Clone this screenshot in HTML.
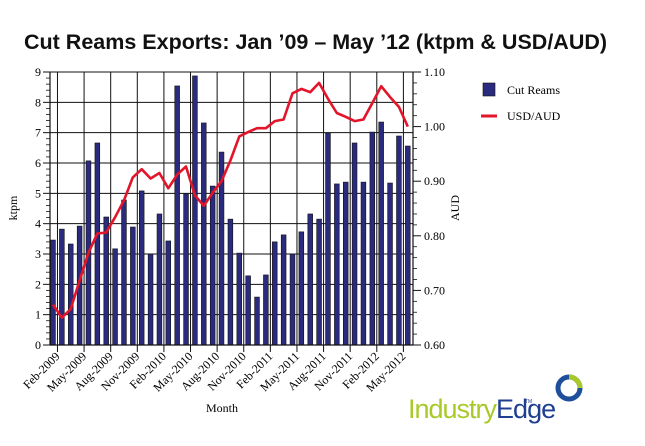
<!DOCTYPE html>
<html><head><meta charset="utf-8"><style>
html,body{margin:0;padding:0;background:#fff;width:645px;height:446px;overflow:hidden}
svg{display:block;font-family:"Liberation Serif",serif}
</style></head><body>
<svg id="chart" width="645" height="446" viewBox="0 0 645 446">
<text x="24" y="49" font-family="Liberation Sans, sans-serif" font-size="21.5" font-weight="bold" fill="#111">Cut Reams Exports: Jan ’09 – May ’12 (ktpm &amp; USD/AUD)</text>
<g id="grid"></g>
<g id="bars"></g>
<g id="axes"></g>
<text transform="translate(17,208) rotate(-90)" text-anchor="middle" font-size="12">ktpm</text>
<text transform="translate(459,208) rotate(-90)" text-anchor="middle" font-size="12">AUD</text>
<text x="222" y="412" text-anchor="middle" font-size="12">Month</text>
<g>
<g><rect x="483" y="83" width="12" height="13" fill="#2a2a7e" stroke="#111" stroke-width="0.6"/><text x="507" y="94" font-size="12">Cut Reams</text></g>
<g><line x1="481" y1="116" x2="497" y2="116" stroke="#e2152a" stroke-width="3"/><text x="507" y="120" font-size="12">USD/AUD</text></g>
</g>
<g>
<circle cx="569" cy="388" r="11" fill="none" stroke="#1f4e9a" stroke-width="5"/>
<path d="M569 377 A11 11 0 0 1 580 388" fill="none" stroke="#a9c92a" stroke-width="5"/>
<text x="408" y="418" font-family="Liberation Sans, sans-serif" font-size="27" fill="#a9c92a" letter-spacing="-1">Industry<tspan fill="#1f3f8f">Edge</tspan></text>
<text x="525" y="403" font-family="Liberation Sans, sans-serif" font-size="5" fill="#1f3f8f">TM</text>
</g>
</svg>
<script>
const months=["Jan-2009","Feb-2009","Mar-2009","Apr-2009","May-2009","Jun-2009","Jul-2009","Aug-2009","Sep-2009","Oct-2009","Nov-2009","Dec-2009","Jan-2010","Feb-2010","Mar-2010","Apr-2010","May-2010","Jun-2010","Jul-2010","Aug-2010","Sep-2010","Oct-2010","Nov-2010","Dec-2010","Jan-2011","Feb-2011","Mar-2011","Apr-2011","May-2011","Jun-2011","Jul-2011","Aug-2011","Sep-2011","Oct-2011","Nov-2011","Dec-2011","Jan-2012","Feb-2012","Mar-2012","Apr-2012","May-2012"];
const cutReams=[3.46,3.82,3.33,3.92,6.07,6.66,4.22,3.17,4.78,3.89,5.08,3.0,4.32,3.43,8.54,4.98,8.87,7.32,5.24,6.36,4.15,3.03,2.28,1.58,2.31,3.4,3.63,3.0,3.73,4.32,4.15,6.99,5.31,5.37,6.66,5.37,7.02,7.35,5.34,6.89,6.56];
const usdAud=[0.674,0.650,0.666,0.718,0.769,0.804,0.806,0.834,0.865,0.907,0.922,0.905,0.915,0.887,0.912,0.927,0.874,0.855,0.879,0.900,0.938,0.982,0.990,0.997,0.997,1.010,1.013,1.061,1.069,1.063,1.080,1.051,1.025,1.018,1.010,1.013,1.043,1.074,1.054,1.036,1.000];
const yTicks=[0,1,2,3,4,5,6,7,8,9];
const y2Ticks=["0.60","0.70","0.80","0.90","1.00","1.10"];
const NS="http://www.w3.org/2000/svg";
const L=50,R=413,T=72,B=345;
const x=i=>53+8.87*i;
const y=v=>B-(B-T)*v/9;
const y2=v=>B-(B-T)*(v-0.6)/0.5;
function mk(tag,attrs,parent){const e=document.createElementNS(NS,tag);for(const k in attrs)e.setAttribute(k,attrs[k]);parent.appendChild(e);return e;}
const grid=document.getElementById('grid'),bars=document.getElementById('bars'),axes=document.getElementById('axes');
yTicks.forEach(v=>{
  const g=mk('line',{x1:L,x2:R,y1:y(v),y2:y(v),stroke:'#111','stroke-width':1},grid);
  
  
  const t=mk('text',{x:L-9,y:y(v)+4,'text-anchor':'end','font-size':12},axes);
  t.textContent=v;
  
  
  mk('line',{x1:L-7,x2:L,y1:y(v),y2:y(v),stroke:'#111'},axes);
  for(let m=1;m<5&&v<9;m++){mk('line',{x1:L-4,x2:L,y1:y(v+m/5),y2:y(v+m/5),stroke:'#111','stroke-width':0.8},axes);}
});
y2Ticks.forEach((s,k)=>{
  const v=parseFloat(s);
  mk('line',{x1:R,x2:R+8,y1:y2(v),y2:y2(v),stroke:'#111'},axes);
  const t=mk('text',{x:R+11,y:y2(v)+4,'font-size':12},axes);
  t.textContent=s;
  
  
  if(k<5)for(let m=1;m<5;m++){mk('line',{x1:R,x2:R+4,y1:y2(v+m*0.02),y2:y2(v+m*0.02),stroke:'#111','stroke-width':0.8},axes);}
});
months.forEach((m,i)=>{
  if(i%3===1){
    const tx=x(i)-4.4;
    const g=mk('line',{x1:tx,x2:tx,y1:T,y2:B,stroke:'#111'},grid);
    
    
    mk('line',{x1:tx,x2:tx,y1:B,y2:B+7,stroke:'#111'},axes);
    const t=mk('text',{transform:`translate(${tx+3},${B+12}) rotate(-45)`,'text-anchor':'end','font-size':12},axes);
    t.textContent=m;
    
    
  }
});
cutReams.forEach((v,i)=>{
  const r=mk('rect',{x:x(i)-2.4,y:y(v),width:4.8,height:B-y(v),fill:'#2a2a7e',stroke:'#111','stroke-width':0.6},bars);
  
  
});
mk('line',{x1:L,x2:L,y1:T,y2:B,stroke:'#111','stroke-width':1.2},axes);
mk('line',{x1:R,x2:R,y1:T,y2:B,stroke:'#111','stroke-width':1.2},axes);
mk('line',{x1:L,x2:R,y1:B,y2:B,stroke:'#111','stroke-width':1.2},axes);
const pts=usdAud.map((v,i)=>x(i).toFixed(1)+','+y2(v).toFixed(1)).join(' ');
const pl=mk('polyline',{points:pts,fill:'none',stroke:'#e2152a','stroke-width':2.6,'stroke-linejoin':'round'},document.getElementById('chart'));


</script>
</body></html>
